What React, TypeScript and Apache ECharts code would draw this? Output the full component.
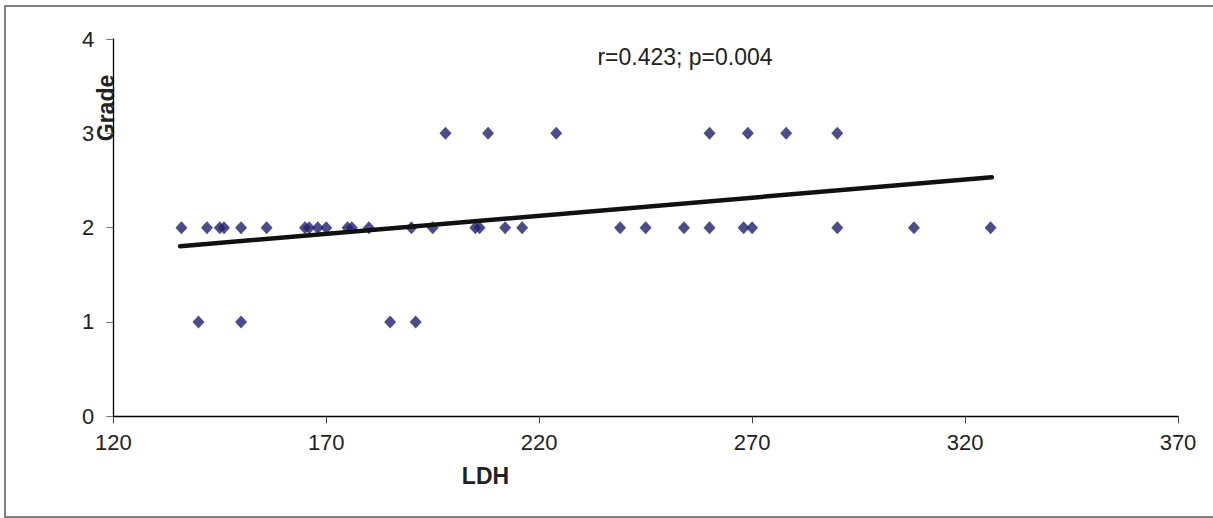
import React, { useEffect, useRef } from "react";
import * as echarts from "echarts";

const grade2LDH = [136, 142, 145, 146, 150, 156, 165, 166, 168, 170, 175, 176, 180, 190, 195, 205, 206, 212, 216, 239, 245, 254, 260, 268, 270, 290, 308, 326];
const grade1LDH = [140, 150, 185, 191];
const grade3LDH = [198, 208, 224, 260, 269, 278, 290];
const trendX = [135.7, 326.3];
const trendY = [1.803, 2.534];
const xTicks = [120, 170, 220, 270, 320, 370];
const yTicks = [0, 1, 2, 3, 4];
const statText = "r=0.423; p=0.004";

export default function App() {
  const ref = useRef<HTMLDivElement>(null);
  useEffect(() => {
    document.body.style.margin = "0";
    const chart = echarts.init(ref.current!, null, { renderer: "svg" });
    const points: number[][] = [];
    grade1LDH.forEach((x) => points.push([x, 1]));
    grade2LDH.forEach((x) => points.push([x, 2]));
    grade3LDH.forEach((x) => points.push([x, 3]));
    const font = "Liberation Sans, Arial, sans-serif";
    chart.setOption({
      animation: false,
      backgroundColor: "#ffffff",
      grid: { left: 113.3, right: 35, top: 39, bottom: 101.7 },
      xAxis: {
        type: "value",
        min: xTicks[0],
        max: xTicks[xTicks.length - 1],
        interval: 50,
        axisLine: { show: true, lineStyle: { color: "#000", width: 1.3 } },
        axisTick: { show: true, length: 7, lineStyle: { color: "#444", width: 1 } },
        axisLabel: { color: "#222", fontSize: 22, fontFamily: font, margin: 15 },
        splitLine: { show: false },
      },
      yAxis: {
        type: "value",
        min: yTicks[0],
        max: yTicks[yTicks.length - 1],
        interval: 1,
        axisLine: { show: true, lineStyle: { color: "#000", width: 1.3 } },
        axisTick: { show: true, length: 7, lineStyle: { color: "#777", width: 1 } },
        axisLabel: { color: "#222", fontSize: 22, fontFamily: font, margin: 19 },
        splitLine: { show: false },
      },
      graphic: [
        {
          type: "rect",
          shape: { x: 5, y: 6, width: 1240, height: 511 },
          style: { fill: "none", stroke: "#808080", lineWidth: 2 },
          silent: true,
          z: -1,
        },
        {
          type: "text",
          x: 685,
          y: 57,
          style: { text: statText, font: `23px ${font}`, fill: "#222", align: "center", verticalAlign: "middle" },
        },
        {
          type: "text",
          x: 485.5,
          y: 476,
          style: { text: "LDH", font: `bold 23px ${font}`, fill: "#222", align: "center", verticalAlign: "middle" },
        },
        {
          type: "text",
          x: 106,
          y: 108,
          rotation: Math.PI / 2,
          style: { text: "Grade", font: `bold 23px ${font}`, fill: "#222", align: "center", verticalAlign: "middle" },
        },
      ],
      series: [
        {
          type: "scatter",
          data: points,
          symbol: "diamond",
          symbolSize: [12, 13],
          itemStyle: { color: "#1f1f6e" },
          z: 3,
        },
        {
          type: "line",
          data: trendX.map((x, i) => [x, trendY[i]]),
          symbol: "none",
          lineStyle: { color: "#111", width: 4.5, cap: "round" },
          z: 4,
        },
      ],
    });
    return () => chart.dispose();
  }, []);
  return <div ref={ref} style={{ width: 1213, height: 518 }} />;
}
